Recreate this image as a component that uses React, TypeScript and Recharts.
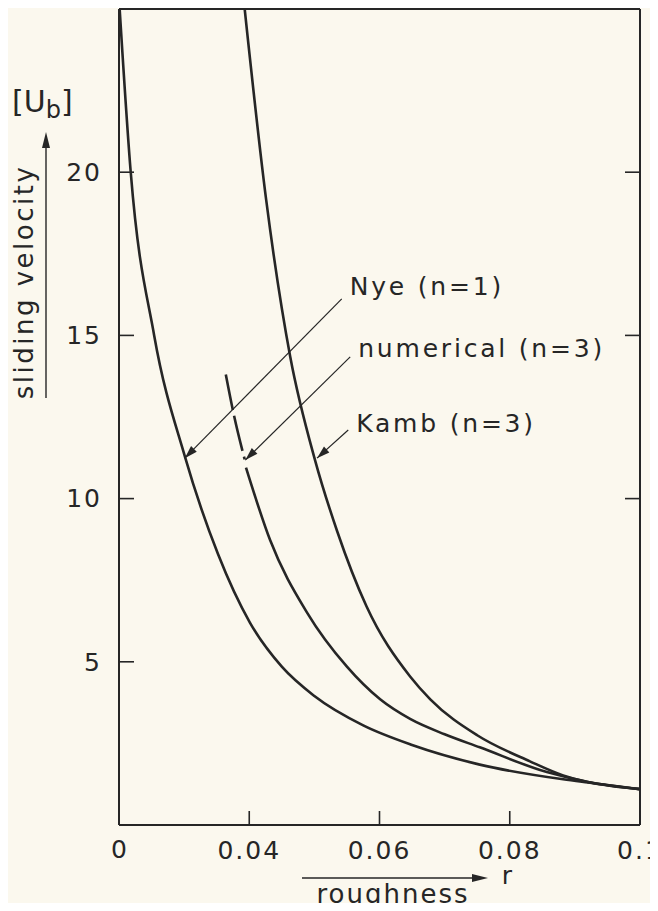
import { LineChart, Line, XAxis, YAxis, ReferenceLine, Label } from "recharts";

// roughness r vs. sliding velocity U (in units of U_b)
const nyeR = [0.0201, 0.0218, 0.0254, 0.0301, 0.0352, 0.0401, 0.045, 0.05, 0.0575, 0.065, 0.0754, 0.0882, 0.092, 0.1];
const nyeU = [25.0, 20.0, 15.0, 11.3, 8.3, 6.2, 4.85, 3.95, 3.05, 2.45, 1.85, 1.4, 1.3, 1.1];

// numerical result, dashed where it is uncertain
const numDashR = [0.0364, 0.0376, 0.0393];
const numDashU = [13.8, 12.6, 11.2];
const numR = [0.0395, 0.0432, 0.0489, 0.055, 0.0601, 0.0647, 0.07, 0.0754, 0.0857, 0.092, 0.1];
const numU = [10.95, 8.73, 6.5, 4.85, 3.85, 3.25, 2.78, 2.38, 1.62, 1.32, 1.1];

const kambR = [0.0393, 0.0426, 0.0463, 0.0501, 0.0535, 0.058, 0.0647, 0.0678, 0.075, 0.0831, 0.0882, 0.092, 0.1];
const kambU = [25.0, 19.15, 14.34, 11.18, 9.0, 6.7, 4.55, 3.85, 2.75, 1.95, 1.52, 1.32, 1.1];

const xTicks = [0.04, 0.06, 0.08, 0.1];
const topTicks = [0.0345, 0.0568, 0.0795];
const yTicks = [0, 5, 10, 15, 20];
const rightTicks = [10, 15, 20];

// leader lines: label end -> arrow tip
const notes = [
  { text: "Nye (n=1)", fromR: 0.0542, fromU: 16.12, toR: 0.0301, toU: 11.24, dy: -13 },
  { text: "numerical (n=3)", fromR: 0.0555, fromU: 14.34, toR: 0.0394, toU: 11.18, dy: -9 },
  { text: "Kamb (n=3)", fromR: 0.0552, fromU: 12.1, toR: 0.0504, toU: 11.24, dy: -7 },
];

const toPoints = (rs: number[], us: number[]) => rs.map((r, i) => ({ r, u: us[i] }));

const INK = "#262626";
const FONT = "'DejaVu Sans', sans-serif";
const textStyle = { fontFamily: FONT, fontSize: 25, fill: INK, letterSpacing: 2 };

function arrowHead(x1: number, y1: number, x2: number, y2: number, len = 13, half = 4) {
  const dx = x2 - x1;
  const dy = y2 - y1;
  const d = Math.hypot(dx, dy) || 1;
  const ux = dx / d;
  const uy = dy / d;
  const bx = x2 - ux * len;
  const by = y2 - uy * len;
  return `${x2},${y2} ${bx - uy * half},${by + ux * half} ${bx + uy * half},${by - ux * half}`;
}

function LeftTick(props: any) {
  const { x, y, payload } = props;
  const ax = x + 17;
  if (payload.value === 0) {
    return (
      <text x={ax + 1} y={y + 24} dy="0.35em" textAnchor="middle" style={textStyle}>
        0
      </text>
    );
  }
  return (
    <g>
      <line x1={ax} y1={y} x2={ax + 15} y2={y} stroke={INK} strokeWidth={1.6} />
      <text x={x} y={y} dy="0.35em" textAnchor="end" style={textStyle}>
        {payload.value}
      </text>
    </g>
  );
}

function BottomTick(props: any) {
  const { x, y, payload } = props;
  const ay = y - 25;
  return (
    <g>
      <line x1={x} y1={ay} x2={x} y2={ay - 14} stroke={INK} strokeWidth={1.6} />
      <text x={x} y={y} dy="0.35em" textAnchor="middle" style={textStyle}>
        {payload.value}
      </text>
    </g>
  );
}

function TopTick(props: any) {
  const { x, y } = props;
  return <line x1={x} y1={y} x2={x} y2={y + 14} stroke={INK} strokeWidth={1.6} />;
}

function RightTick(props: any) {
  const { x, y } = props;
  return <line x1={x - 15} y1={y} x2={x} y2={y} stroke={INK} strokeWidth={1.6} />;
}

function Leader(props: any) {
  const { x1, y1, x2, y2, text, dy } = props;
  return (
    <g>
      <line x1={x1} y1={y1} x2={x2} y2={y2} stroke={INK} strokeWidth={1.2} />
      <polygon points={arrowHead(x1, y1, x2, y2)} fill={INK} />
      <text x={x1 + 8} y={y1 + dy} dy="0.35em" style={{ ...textStyle, letterSpacing: 2.8 }}>
        {text}
      </text>
    </g>
  );
}

function Titles() {
  return (
    <g>
      {/* y title */}
      <text
        transform="translate(33, 282) rotate(-90)"
        textAnchor="middle"
        style={{ ...textStyle, fontSize: 26, letterSpacing: 2.5 }}
      >
        sliding velocity
      </text>
      <line x1={46} y1={398} x2={46} y2={140} stroke={INK} strokeWidth={1.4} />
      <polygon points={arrowHead(46, 398, 46, 132, 16, 4)} fill={INK} />
      <text x={12} y={112} style={{ ...textStyle, fontSize: 30, letterSpacing: 0 }}>
        [U
        <tspan dy={6} fontSize={24}>
          b
        </tspan>
        <tspan dy={-6}>]</tspan>
      </text>
      {/* x title */}
      <line x1={302} y1={878} x2={476} y2={878} stroke={INK} strokeWidth={1.4} />
      <polygon points={arrowHead(302, 878, 488, 878, 16, 4)} fill={INK} />
      <text x={508} y={884} textAnchor="middle" style={textStyle}>
        r
      </text>
      <text x={393} y={903} textAnchor="middle" style={{ ...textStyle, fontSize: 26 }}>
        roughness
      </text>
    </g>
  );
}

export default function App() {
  return (
    <div style={{ margin: -8, width: 658, height: 911, background: "#fbf8ee" }}>
      <LineChart width={658} height={911} margin={{ top: 8, right: 17, bottom: 0, left: 19 }}>
        <XAxis
          dataKey="r"
          type="number"
          domain={[0.02, 0.1]}
          ticks={xTicks}
          allowDataOverflow
          height={86}
          tickSize={0}
          tickMargin={25}
          tickLine={false}
          axisLine={{ stroke: INK, strokeWidth: 2 }}
          tick={<BottomTick />}
          interval={0}
        >
          <Label content={<Titles />} />
        </XAxis>
        <XAxis
          xAxisId="top"
          orientation="top"
          type="number"
          domain={[0.02, 0.1]}
          ticks={topTicks}
          allowDataOverflow
          height={1}
          tickSize={0}
          tickMargin={0}
          tickLine={false}
          axisLine={{ stroke: INK, strokeWidth: 2 }}
          tick={<TopTick />}
          interval={0}
        />
        <YAxis
          type="number"
          domain={[0, 25]}
          ticks={yTicks}
          allowDataOverflow
          width={100}
          tickSize={0}
          tickMargin={17}
          tickLine={false}
          axisLine={{ stroke: INK, strokeWidth: 2 }}
          tick={<LeftTick />}
          interval={0}
        />
        <YAxis
          yAxisId="right"
          orientation="right"
          type="number"
          domain={[0, 25]}
          ticks={rightTicks}
          allowDataOverflow
          width={1}
          tickSize={0}
          tickMargin={0}
          tickLine={false}
          axisLine={{ stroke: INK, strokeWidth: 2 }}
          tick={<RightTick />}
          interval={0}
        />
        <Line data={toPoints(nyeR, nyeU)} dataKey="u" type="monotone" stroke={INK} strokeWidth={2.6} dot={false} isAnimationActive={false} />
        <Line data={toPoints(numDashR, numDashU)} dataKey="u" type="monotone" stroke={INK} strokeWidth={2.6} strokeDasharray="36 6" dot={false} isAnimationActive={false} />
        <Line data={toPoints(numR, numU)} dataKey="u" type="monotone" stroke={INK} strokeWidth={2.6} dot={false} isAnimationActive={false} />
        <Line data={toPoints(kambR, kambU)} dataKey="u" type="monotone" stroke={INK} strokeWidth={2.6} dot={false} isAnimationActive={false} />
        {notes.map((n) => (
          <ReferenceLine
            key={n.text}
            segment={[
              { x: n.fromR, y: n.fromU },
              { x: n.toR, y: n.toU },
            ]}
            ifOverflow="visible"
            shape={(p: any) => <Leader {...p} text={n.text} dy={n.dy} />}
          />
        ))}
      </LineChart>
    </div>
  );
}
